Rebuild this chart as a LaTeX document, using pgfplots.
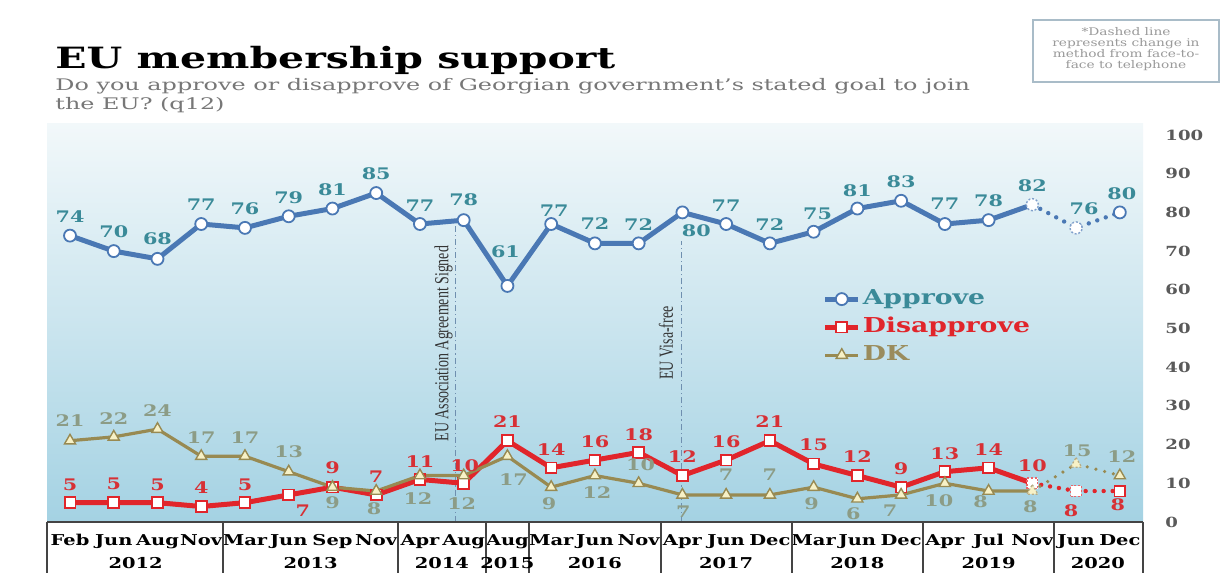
\documentclass[border=0pt]{standalone}
\usepackage{fontspec}
\setmainfont{DejaVu Serif}[FakeStretch=1.3]
\newfontfamily\titlefont{DejaVu Serif}[FakeStretch=1.4]
\newfontfamily\subfont{DejaVu Serif}[FakeStretch=1.5]
\newfontfamily\condserif{Liberation Serif}[FakeStretch=0.7]
\usepackage{pgfplots}
\pgfplotsset{compat=1.18}
\usepackage{pgfplotstable}

\definecolor{apL}{HTML}{4A78B4}
\definecolor{apT}{HTML}{3A8A98}
\definecolor{diL}{HTML}{E1252B}
\definecolor{diT}{HTML}{D73035}
\definecolor{dkL}{HTML}{988A52}
\definecolor{dkT}{HTML}{8C9C86}
\definecolor{dkLeg}{HTML}{9A8C5C}
\definecolor{dkF}{HTML}{F7F1C6}
\definecolor{bgtop}{HTML}{F2F8FA}
\definecolor{bgmid}{HTML}{C6E3EE}
\definecolor{bgbot}{HTML}{A4D2E3}
\definecolor{evL}{HTML}{6F8FAF}
\definecolor{tickgray}{HTML}{5A5A5A}
\definecolor{subgray}{HTML}{777777}
\definecolor{notegray}{HTML}{9A9A9A}
\definecolor{boxgray}{HTML}{A9BCC8}
\definecolor{tablegray}{HTML}{444444}

% x = survey index; a/d/k = Approve/Disapprove/DK; *dx,*dy = label offsets (bp)
\pgfplotstableread{
x  a  adx ady  d  ddx  ddy   k  kdx  kdy
1  74 0   9.5  5  0    9     21 0    10
2  70 0   9.5  5  0    9.5   22 0    9
3  68 0   10   5  0    9     24 0    9.5
4  77 0   9.5  4  0    9.5   17 0    9.5
5  76 0   9.5  5  0    9     17 0    9.5
6  79 0   9.5  7  7    -8    13 0    10
7  81 0   9.5  9  0    9.5   9  0    -8
8  85 0   9.5  7  0    9     8  -1   -9
9  77 0   9    11 0    9     12 -1   -11.5
10 78 0   10   10 0.5  9     12 -1   -14
11 61 -1  17   21 0    9.5   17 3    -11.5
12 77 1.5 6.5  14 0    9     9  -1   -8.5
13 72 0   10   16 0    9     12 1    -8.5
14 72 0   9.5  18 0    9     10 1    9.5
15 80 7   -9   12 0    9.5   7  0.5  -8.5
16 77 0   9    16 0    9     7  0    10
17 72 0   9.5  21 0    9.5   7  0    10
18 75 2   9    15 0    9.5   9  -1   -8.5
19 81 0   9    12 0    9.5   6  -2   -7.5
20 83 0   9.5  9  0    9     7  -5.5 -8
21 77 0   10   13 0    9     10 -3   -8.5
22 78 0   9.5  14 0    9     8  -4   -5.5
23 82 0   9.5  10 0    9     8  -1   -8
24 76 4   9.5  8  -2.5 -10   15 0.5  6.5
25 80 1   9.5  8  -1   -7    12 1    9.5
}\data

\pgfplotsset{
  lab/.style n args={3}{
    nodes near coords,
    visualization depends on={\thisrow{#1}\as\ldx},
    visualization depends on={\thisrow{#2}\as\ldy},
    every node near coord/.append style={anchor=center, inner sep=0pt,
      xshift=\ldx bp, yshift=\ldy bp, text=#3,
      font=\bfseries\fontsize{8}{8}\selectfont},
  },
  apmark/.style={mark=*, mark size=3bp, mark options={fill=white, draw=apL, line width=0.9bp, solid}},
  dimark/.style={mark=square*, mark size=2.7bp, mark options={fill=white, draw=diL, line width=0.9bp, solid}},
  dkmark/.style={mark=triangle*, mark size=3.2bp, mark options={fill=dkF, draw=dkL, line width=0.7bp, solid}},
  apmarkd/.style={mark=*, mark size=3bp, mark options={fill=white, draw=apL!70, line width=0.7bp, dash pattern=on 1bp off 0.9bp}},
  dimarkd/.style={mark=square*, mark size=2.7bp, mark options={fill=white, draw=diL!70, line width=0.7bp, dash pattern=on 1bp off 0.9bp}},
  dkmarkd/.style={mark=triangle*, mark size=3.2bp, mark options={fill=dkF, draw=dkL!70, line width=0.6bp, dash pattern=on 1bp off 0.9bp}},
  dots/.style={line width=2.2bp, line cap=round, dash pattern=on 0bp off 4.5bp},
  solidpart/.style={restrict x to domain=1:23},
  dotpart/.style={restrict x to domain=23:25},
  dashmarks/.style={restrict x to domain=23:24},
  fullmarks/.style={skip coords between index={22}{24}},
}

\begin{document}
\begin{tikzpicture}
\useasboundingbox (0,0) rectangle (611bp,286.5bp);
\fill[white] (0,0) rectangle (611bp,286.5bp);
\begin{axis}[
  at={(23.5bp,25.5bp)}, anchor=south west,
  scale only axis, width=548bp, height=199.3bp,
  xmin=0.474, xmax=25.53, ymin=0, ymax=103,
  axis line style={draw=none},
  axis background/.style={top color=bgtop, middle color=bgmid, bottom color=bgbot},
  clip=false,
  major tick length=0pt,
  ytick={0,10,...,100}, yticklabel pos=right,
  yticklabel style={anchor=west, inner sep=0pt, xshift=11bp, text=tickgray,
    font=\bfseries\fontsize{7}{7}\selectfont},
  /pgf/number format/assume math mode=true,
  xtick={1,...,25},
  xticklabels={Feb,Jun,Aug,Nov,Mar,Jun,Sep,Nov,Apr,Aug,Aug,Mar,Jun,Nov,Apr,Jun,Dec,Mar,Jun,Dec,Apr,Jul,Nov,Jun,Dec},
  xticklabel style={anchor=base, inner sep=0pt, yshift=-11.5bp, text=black,
    font=\bfseries\fontsize{7.5}{7.5}\selectfont},
  legend style={at={(axis cs:18.2,60.8)}, anchor=north west, draw=none, fill=none,
    inner sep=0pt, row sep=2bp,
    nodes={inner sep=1bp, text height=7.5bp, text depth=2.5bp, anchor=west,
      font=\bfseries\fontsize{10.3}{10.3}\selectfont}},
  legend cell align=left,
  legend image code/.code={\draw[#1, mark repeat=2, mark phase=2] plot coordinates {(0bp,0bp) (8.25bp,0bp) (16.5bp,0bp)};},
]
\addlegendimage{apL, line width=2.5bp, apmark}
\addlegendimage{diL, line width=2.5bp, dimark}
\addlegendimage{dkL, line width=1.6bp, dkmark}
\legend{\textcolor{apT}{Approve},\textcolor{diL}{Disapprove},\textcolor{dkLeg}{DK}}

% event lines
\draw[evL, line width=0.6bp, dash pattern=on 3bp off 1.5bp on 0.6bp off 1.5bp] (axis cs:9.81,0) -- (axis cs:9.81,76.5);
\draw[evL, line width=0.6bp, dash pattern=on 3bp off 1.5bp on 0.6bp off 1.5bp] (axis cs:14.98,0) -- (axis cs:14.98,72.5);
\node[rotate=90, anchor=base west, inner sep=0pt, text=black!80, font=\condserif\fontsize{10}{10}\selectfont] at (axis cs:9.65,20.7) {EU Association Agreement Signed};
\node[rotate=90, anchor=base west, inner sep=0pt, text=black!80, font=\condserif\fontsize{10}{10}\selectfont] at (axis cs:14.78,36.7) {EU Visa-free};

% Approve
\addplot[forget plot, apL, line width=2.5bp, solidpart] table[x=x, y=a] {\data};
\addplot[forget plot, apL, dots, dotpart] table[x=x, y=a] {\data};
\addplot[forget plot, only marks, apmark, fullmarks, lab={adx}{ady}{apT}] table[x=x, y=a] {\data};
\addplot[forget plot, only marks, apmarkd, dashmarks, lab={adx}{ady}{apT}] table[x=x, y=a] {\data};

% Disapprove
\addplot[forget plot, diL, line width=2.5bp, solidpart] table[x=x, y=d] {\data};
\addplot[forget plot, diL, dots, dotpart] table[x=x, y=d] {\data};
\addplot[forget plot, only marks, dimark, fullmarks, lab={ddx}{ddy}{diT}] table[x=x, y=d] {\data};
\addplot[forget plot, only marks, dimarkd, dashmarks, lab={ddx}{ddy}{diT}] table[x=x, y=d] {\data};

% DK
\addplot[forget plot, dkL, line width=1.6bp, solidpart] table[x=x, y=k] {\data};
\addplot[forget plot, dkL, dots, line width=1.8bp, dotpart] table[x=x, y=k] {\data};
\addplot[forget plot, only marks, dkmark, fullmarks, lab={kdx}{kdy}{dkT}] table[x=x, y=k] {\data};
\addplot[forget plot, only marks, dkmarkd, dashmarks, lab={kdx}{kdy}{dkT}] table[x=x, y=k] {\data};

% table grid below the axis
\draw[tablegray, line width=1bp] (axis cs:0.474,0) -- (axis cs:25.53,0);
\pgfplotsinvokeforeach{0.474,4.5,8.5,10.5,11.5,14.5,17.5,20.5,23.5,25.53}{
  \draw[tablegray, line width=1bp] (axis cs:#1,0) -- (axis cs:#1,-14);
}
\node[anchor=base, inner sep=0pt, font=\bfseries\fontsize{7.5}{7.5}\selectfont] at (axis cs:2.5,-11.9) {2012};
\node[anchor=base, inner sep=0pt, font=\bfseries\fontsize{7.5}{7.5}\selectfont] at (axis cs:6.5,-11.9) {2013};
\node[anchor=base, inner sep=0pt, font=\bfseries\fontsize{7.5}{7.5}\selectfont] at (axis cs:9.5,-11.9) {2014};
\node[anchor=base, inner sep=0pt, font=\bfseries\fontsize{7.5}{7.5}\selectfont] at (axis cs:11,-11.9) {2015};
\node[anchor=base, inner sep=0pt, font=\bfseries\fontsize{7.5}{7.5}\selectfont] at (axis cs:13,-11.9) {2016};
\node[anchor=base, inner sep=0pt, font=\bfseries\fontsize{7.5}{7.5}\selectfont] at (axis cs:16,-11.9) {2017};
\node[anchor=base, inner sep=0pt, font=\bfseries\fontsize{7.5}{7.5}\selectfont] at (axis cs:19,-11.9) {2018};
\node[anchor=base, inner sep=0pt, font=\bfseries\fontsize{7.5}{7.5}\selectfont] at (axis cs:22,-11.9) {2019};
\node[anchor=base, inner sep=0pt, font=\bfseries\fontsize{7.5}{7.5}\selectfont] at (axis cs:24.5,-11.9) {2020};
\end{axis}

% titles
\node[anchor=base west, inner sep=0pt, font=\titlefont\bfseries\fontsize{14.7}{14.7}\selectfont] at (27.5bp,252bp) {EU membership support};
\node[anchor=base west, inner sep=0pt, text=subgray, font=\subfont\fontsize{8}{8}\selectfont] at (27.5bp,241bp) {Do you approve or disapprove of Georgian government’s stated goal to join};
\node[anchor=base west, inner sep=0pt, text=subgray, font=\subfont\fontsize{8}{8}\selectfont] at (27.5bp,231.5bp) {the EU? (q12)};

% note box
\draw[boxgray, line width=0.8bp] (516.5bp,276.5bp) rectangle (609.5bp,245.5bp);
\node[anchor=base, inner sep=0pt, text=notegray, font=\fontsize{5.3}{5.3}\selectfont] at (563bp,268.5bp) {*Dashed line};
\node[anchor=base, inner sep=0pt, text=notegray, font=\fontsize{5.3}{5.3}\selectfont] at (563bp,263bp) {represents change in};
\node[anchor=base, inner sep=0pt, text=notegray, font=\fontsize{5.3}{5.3}\selectfont] at (563bp,257.5bp) {method from face-to-};
\node[anchor=base, inner sep=0pt, text=notegray, font=\fontsize{5.3}{5.3}\selectfont] at (563bp,252bp) {face to telephone};
\end{tikzpicture}
\end{document}
